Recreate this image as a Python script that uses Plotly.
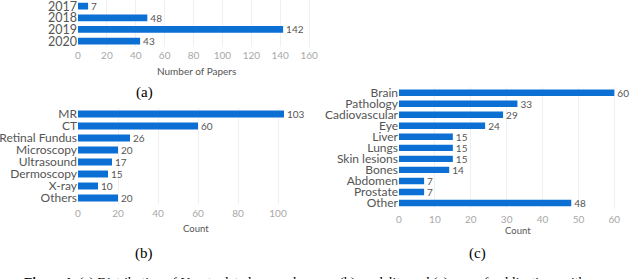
import plotly.graph_objects as go

# (a) papers per year
years = ["2017", "2018", "2019", "2020"]
year_counts = [7, 48, 142, 43]

# (b) modality
modalities = ["MR", "CT", "Retinal Fundus", "Microscopy", "Ultrasound", "Dermoscopy", "X-ray", "Others"]
modality_counts = [103, 60, 26, 20, 17, 15, 10, 20]

# (c) organ / application
organs = ["Brain", "Pathology", "Cadiovascular", "Eye", "Liver", "Lungs", "Skin lesions",
          "Bones", "Abdomen", "Prostate", "Other"]
organ_counts = [60, 33, 29, 24, 15, 15, 15, 14, 7, 7, 48]

ticks_a = [0, 20, 40, 60, 80, 100, 120, 140, 160]
ticks_b = [0, 20, 40, 60, 80, 100]
ticks_c = [0, 10, 20, 30, 40, 50, 60]

W, H = 640, 279
BLUE = "#0b6fd4"
LBL = "Lato"

def px(x):
    return x / W

def py(y):
    return 1 - y / H

fig = go.Figure()

def add_bar(cats, vals, xa, ya):
    fig.add_trace(go.Bar(
        y=cats, x=vals, orientation="h", marker=dict(color=BLUE, line=dict(width=0)),
        text=vals, textposition="outside", cliponaxis=False, constraintext="none",
        textfont=dict(family=LBL, size=10, color="#555555"),
        xaxis=xa, yaxis=ya, showlegend=False, hoverinfo="skip",
    ))

add_bar(years, year_counts, "x", "y")
add_bar(modalities, modality_counts, "x2", "y2")
add_bar(organs, organ_counts, "x3", "y3")

def xax(dom, rng, ticks, anchor, standoff):
    return dict(domain=dom, range=rng, tickmode="array", tickvals=ticks, anchor=anchor,
                showgrid=True, gridcolor="#f0f0f0", gridwidth=1, zeroline=False,
                showline=False, ticks="", automargin=False, ticklabelstandoff=standoff,
                tickfont=dict(family=LBL, size=10, color="#a8a8a8"), fixedrange=True)

def yax(dom, anchor, size, cats):
    return dict(domain=dom, anchor=anchor, autorange="reversed", showgrid=False,
                tickmode="array", tickvals=cats, automargin=False,
                zeroline=False, showline=False, ticks="", ticklen=0,
                tickfont=dict(family=LBL, size=size, color="#555555"), fixedrange=True)

fig.update_layout(
    width=W, height=H, margin=dict(l=0, r=0, t=0, b=0),
    paper_bgcolor="white", plot_bgcolor="white", bargap=0.42,
    xaxis=xax([px(78), px(312)], [0, 162], ticks_a, "y", 1),
    yaxis=yax([py(47), py(0.3)], "x", 12.5, years),
    xaxis2=xax([px(78), px(312)], [0, 117], ticks_b, "y2", 2),
    yaxis2=yax([py(204), py(108)], "x2", 12, modalities),
    xaxis3=xax([px(399), px(638)], [0, 66.6], ticks_c, "y3", 3),
    yaxis3=yax([py(208.5), py(87.2)], "x3", 12, organs),
)

def ann(text, x, y, size, family, color="#000000", xanchor="center", yanchor="middle"):
    fig.add_annotation(text=text, x=px(x), y=py(y), xref="paper", yref="paper",
                       showarrow=False, xanchor=xanchor, yanchor=yanchor,
                       font=dict(family=family, size=size, color=color))

ann("Number of Papers", 196, 71, 10, LBL, "#555555")
ann("Count", 196, 228, 9.5, LBL, "#555555")
ann("Count", 518, 230, 9.5, LBL, "#555555")
ann("(a)", 144, 93, 15, "Liberation Serif")
ann("(b)", 144, 253, 15, "Liberation Serif")
ann("(c)", 477, 253, 15, "Liberation Serif")
ann("<b>Figure 1.</b> (a) Distribution of U-net related papers by year, (b) modality and (c) area of publications with",
    22, 281, 13.5, "Liberation Serif", xanchor="left", yanchor="middle")

fig.write_html("out.html", config={"displayModeBar": False, "staticPlot": True},
               post_script="document.body.style.margin='0';document.body.style.overflow='hidden';")
